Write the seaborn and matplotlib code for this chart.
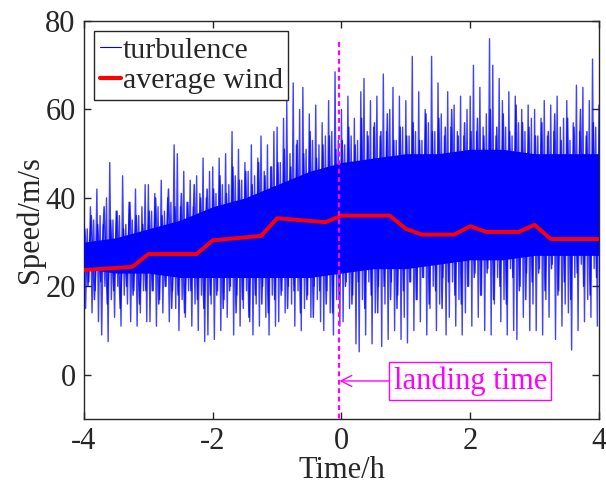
import numpy as np
import pandas as pd
import matplotlib
matplotlib.use("Agg")
import matplotlib.pyplot as plt
import seaborn as sns

# ---------------- data ----------------
# average wind: vertices of the red line
avg_time = [-4, -3.25, -3, -2.25, -2, -1.25, -1, -0.25, 0, 0.75, 1, 1.25,
            1.75, 2, 2.25, 2.75, 3, 3.25, 4]
avg_speed = [23.7, 24.4, 27.3, 27.3, 30.4, 31.4, 35.4, 34.5, 36.0, 36.0, 33.0,
             31.7, 31.7, 33.6, 32.3, 32.3, 33.9, 30.7, 30.7]

# turbulence, outer spikes: tops (at t) and troughs (at t + 0.025), every 0.05 h from -4 h
turb_peaks = [
    34, 33, 38, 35, 42, 36, 34, 40, 48, 35, 37, 36, 45, 34, 39, 35, 42, 36, 38, 43,
    43, 37, 41, 38, 44, 37, 40, 39, 52, 50, 38, 46, 39, 44, 38, 45, 41, 49, 40, 46,
    47, 41, 49, 43, 50, 43, 55, 45, 51, 44, 48, 46, 52, 45, 49, 54, 46, 52, 47, 55,
    56, 48, 58, 62, 50, 66, 52, 60, 65, 51, 59, 53, 61, 52, 57, 54, 62, 55, 68.5, 53,
    60, 52, 63, 54, 58, 53, 64, 67, 55, 62, 56, 63, 54, 68, 55, 60, 65, 53, 63, 56,
    62, 54, 72, 55, 64, 53, 60, 57, 72, 55, 66, 59, 54, 64, 56, 61, 55, 63, 54, 60,
    63, 70, 55, 65, 56, 59, 76, 70, 54, 67, 62, 56, 64, 54, 63, 57, 60, 55, 61, 58,
    60, 54, 58, 62, 54, 61, 55, 63, 56, 58, 62, 53, 57, 65.5, 55, 65, 54, 62, 71.4, 56, 61]
turb_troughs = [
    15, 21, 14, 19, 12, 9, 20, 7.5, 17, 13, 20, 11, 18, 16, 12, 19, 11, 14, 19, 12,
    12, 19, 11, 17, 14, 20, 12, 19, 15, 10, 17, 13, 19, 11, 16, 10, 18, 7.5, 9, 16,
    8, 19, 10, 17, 13, 20, 9, 18, 11, 15, 19, 12, 9, 16, 11, 20, 13, 9, 18, 11,
    12, 19, 14, 20, 16, 11, 19, 10, 15, 18, 13, 20, 17, 12, 10, 19, 14, 9, 17, 11,
    12, 21, 15, 18, 7, 5.2, 17, 9, 21, 7, 14, 20, 6.4, 16, 8, 21, 10, 18, 8, 13,
    7.2, 21, 10, 17, 12, 22, 9, 15, 20, 10, 16, 22, 9, 13, 21, 11, 17, 9, 14, 20,
    11, 23, 13, 18, 10, 24, 9, 16, 22, 12, 17, 9, 24, 10, 8, 20, 13, 23, 10, 16,
    10, 24, 9, 17, 13, 25, 8, 19, 11, 16, 14, 5.6, 22, 10, 25, 12, 17, 13, 24, 11, 14]

# turbulence, inner fringe: tops (at t + 0.0125) and troughs (at t + 0.0625), every 0.1 h
fringe_peaks = [
    33, 36, 34, 38, 35, 37, 33, 39, 36, 34,
    37, 40, 36, 42, 38, 41, 39, 43, 40, 42,
    42, 45, 41, 47, 44, 46, 43, 48, 45, 47,
    48, 51, 47, 53, 50, 55, 49, 52, 54, 51,
    53, 56, 52, 58, 54, 57, 55, 59, 53, 56,
    54, 57, 53, 59, 55, 58, 56, 60, 54, 57,
    55, 58, 54, 60, 56, 59, 55, 61, 57, 56,
    54, 57, 55, 59, 53, 58, 56, 60, 55, 57, 56]
fringe_troughs = [
    20, 17, 21, 16, 19, 15, 20, 18, 16, 19,
    19, 16, 20, 15, 18, 14, 19, 17, 15, 18,
    18, 15, 19, 14, 17, 13, 18, 16, 14, 17,
    18, 15, 19, 14, 17, 13, 19, 16, 14, 18,
    20, 16, 21, 15, 18, 14, 20, 17, 15, 19,
    21, 17, 22, 16, 19, 15, 21, 18, 16, 20,
    22, 18, 23, 17, 20, 16, 22, 19, 17, 21,
    23, 19, 24, 18, 21, 17, 23, 20, 18, 22, 21]

# solid core of the turbulence band (every 0.5 h)
core_time = [-4, -3.5, -3, -2.5, -2, -1.5, -1, -0.5, 0, 0.5, 1, 1.5, 2, 2.5, 3, 3.5, 4]
core_high = [30, 31, 33, 35, 38, 40, 43, 46, 48, 49, 50, 50, 51, 51, 50, 50, 50]
core_low = [24, 23, 23, 22, 22, 22, 22, 22, 23, 24, 24, 25, 26, 26, 27, 27, 27]

landing_time = -0.04
x_ticks = [-4, -2, 0, 2, 4]
y_ticks = [0, 20, 40, 60, 80]


# ---------------- build tables ----------------
def zigzag(tops, bottoms, step, t0, half):
    t = np.round(np.arange(len(tops)) * step + t0, 4)
    tt = np.empty(2 * len(t))
    vv = np.empty(2 * len(t))
    tt[0::2] = t
    tt[1::2] = t + half
    vv[0::2] = tops
    vv[1::2] = bottoms
    return pd.DataFrame({"time": tt, "speed": vv})


outer_df = zigzag(turb_peaks, turb_troughs, 0.05, -4.0, 0.025)
inner_df = zigzag(fringe_peaks, fringe_troughs, 0.1, -3.9875, 0.05)
avg_df = pd.DataFrame({"time": avg_time, "speed": avg_speed})

# ---------------- style ----------------
sns.set_theme(style="ticks")
plt.rcParams["font.family"] = ["Liberation Serif", "DejaVu Serif"]
FS = 22
dark = "#262626"

fig = plt.figure(figsize=(6.06, 4.90), dpi=100)
ax = fig.add_axes([0.1386, 0.1449, 0.8498, 0.8122])

blue = "#0000FF"
ax.fill_between(core_time, core_low, core_high, color=blue, lw=0, zorder=1)
sns.lineplot(data=inner_df, x="time", y="speed", ax=ax, color=blue, lw=1.1,
             alpha=0.8, estimator=None, sort=False, zorder=2)
sns.lineplot(data=outer_df, x="time", y="speed", ax=ax, color=blue, lw=1.0,
             alpha=0.75, estimator=None, sort=False, label="turbulence", zorder=3)
sns.lineplot(data=avg_df, x="time", y="speed", ax=ax, color="#FF0000", lw=2.8,
             estimator=None, sort=False, label="average wind", zorder=4)

ax.plot([landing_time, landing_time], [75.3, -10], color="#FF00FF", lw=1.6,
        ls=(0, (2.2, 1.6)), zorder=5)
ax.annotate("landing time", xy=(landing_time + 0.01, -1.4), xytext=(2.0, -1.4),
            ha="center", va="center", fontsize=FS, color="#FF00FF",
            bbox=dict(boxstyle="square,pad=0.14", fc="white", ec="#FF00FF", lw=1.0),
            arrowprops=dict(arrowstyle="->,head_length=0.35,head_width=0.18",
                            color="#FF00FF", lw=1.0, shrinkA=0, shrinkB=0),
            zorder=6)

ax.set_xlim(-4, 4)
ax.set_ylim(-10, 80)
ax.set_xticks(x_ticks)
ax.set_yticks(y_ticks)
ax.set_xticklabels([str(v) for v in x_ticks])
ax.set_yticklabels([str(v) for v in y_ticks])
ax.tick_params(direction="in", top=True, right=True, length=5, width=1.0,
               labelsize=FS, colors=dark, pad=6)
for s in ax.spines.values():
    s.set_visible(True)
    s.set_color(dark)
    s.set_linewidth(1.0)
ax.set_xlabel("Time/h", fontsize=FS, color=dark, labelpad=0)
ax.set_ylabel("Speed/m/s", fontsize=FS, color=dark, labelpad=0)

leg = ax.legend(loc="upper left", fontsize=21.5, frameon=True, fancybox=False,
                framealpha=1, edgecolor=dark, handlelength=0.7, handletextpad=0.06,
                labelspacing=0.12, borderpad=0.18, borderaxespad=0.35)
leg.get_frame().set_linewidth(1.0)
for h in leg.get_lines():
    h.set_alpha(1)
leg.get_lines()[0].set_linewidth(0.8)
leg.get_lines()[1].set_linewidth(3.0)
leg.set_zorder(10)

fig.savefig("out.png", dpi=100)
